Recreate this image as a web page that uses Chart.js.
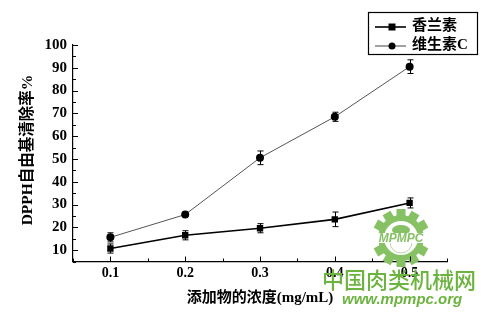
<!DOCTYPE html>
<html><head><meta charset="utf-8">
<script src="https://cdn.jsdelivr.net/npm/chart.js@4"></script>
<style>html,body{margin:0;padding:0;background:#fff}#w{width:500px;height:317px;position:relative}</style>
</head><body><div id="w"><canvas id="c"></canvas></div>
<script>
const concentrations = [0.1, 0.2, 0.3, 0.4, 0.5];
const seriesNames = ['香兰素', '维生素C'];
const vanillin = [10.7, 16.5, 19.6, 23.5, 30.7];
const vanillinErr = [2.0, 2.0, 2.0, 3.2, 2.2];
const vitaminC = [15.6, 25.6, 50.5, 68.5, 90.5];
const vitaminCErr = [2.0, 0.6, 3.0, 2.0, 3.0];
const xTickValues = [0.1, 0.2, 0.3, 0.4, 0.5];
const xTickLabels = ['0.1', '0.2', '0.3', '0.4', '0.5'];
const yTickValues = [10, 20, 30, 40, 50, 60, 70, 80, 90, 100];
const xTitle = '添加物的浓度(mg/mL)';
const yTitle = 'DPPH自由基清除率%';
const watermark1 = '中国肉类机械网';
const watermark2 = 'www.mpmpc.org';

const SERIF = '"Liberation Serif", "Noto Sans CJK SC", serif';
const CJK = '"Liberation Serif", "Noto Sans CJK SC", sans-serif';

const errs = [vanillinErr, vitaminCErr];

const drawPlugin = {
  id: 'custom',
  beforeDatasetsDraw(chart) {
    const ctx = chart.ctx, xs = chart.scales.x, ys = chart.scales.y;
    const a = chart.chartArea;
    ctx.save();
    // watermark gear
    const gx = 401, gy = 238;
    ctx.fillStyle = '#86c164';
    ctx.beginPath();
    for (let i = 0; i < 12; i++) {
      const ang = i * Math.PI / 6;
      ctx.save(); ctx.translate(gx, gy); ctx.rotate(ang);
      ctx.fillRect(-4.5, -29, 9, 8);
      ctx.restore();
    }
    ctx.arc(gx, gy, 23, 0, Math.PI * 2);
    ctx.fill();
    ctx.fillStyle = '#ffffff';
    ctx.beginPath(); ctx.arc(gx, gy, 17, 0, Math.PI * 2); ctx.fill();
    ctx.strokeStyle = '#b5dba0'; ctx.lineWidth = 1;
    ctx.beginPath(); ctx.arc(gx, gy + 4, 11, 0, Math.PI * 2); ctx.stroke();
    ctx.fillStyle = '#86c164';
    ctx.beginPath(); ctx.ellipse(gx, gy - 8, 9, 5, 0, 0, Math.PI * 2); ctx.fill();
    ctx.font = 'italic bold 12px "Liberation Sans", sans-serif';
    ctx.textAlign = 'center'; ctx.textBaseline = 'middle';
    ctx.fillStyle = '#ffffff';
    ctx.fillRect(gx - 32, gy - 5, 64, 10);
    ctx.fillStyle = '#86c164';
    ctx.fillText('MPMPC', gx, gy + 1);
    ctx.restore();

    // inward ticks
    ctx.save();
    ctx.strokeStyle = '#000'; ctx.lineWidth = 1;
    ctx.beginPath();
    for (let v = 5; v <= 100; v += 5) {
      const y = Math.round(ys.getPixelForValue(v)) + 0.5;
      const len = (v % 10 === 0) ? 5 : 3;
      ctx.moveTo(a.left, y); ctx.lineTo(a.left + len, y);
    }
    for (let k = 1; k <= 11; k++) {
      const v = k * 0.05;
      const x = Math.round(xs.getPixelForValue(v)) + 0.5;
      const len = (k % 2 === 0) ? 5 : 3;
      ctx.moveTo(x, a.bottom); ctx.lineTo(x, a.bottom - len);
    }
    ctx.stroke();
    // error bars
    chart.data.datasets.forEach((ds, i) => {
      ctx.strokeStyle = '#000'; ctx.lineWidth = 1;
      ds.data.forEach((pt, j) => {
        const x = Math.round(xs.getPixelForValue(pt.x)) + 0.5;
        const y1 = ys.getPixelForValue(pt.y - errs[i][j]);
        const y2 = ys.getPixelForValue(pt.y + errs[i][j]);
        ctx.beginPath();
        ctx.moveTo(x, y1); ctx.lineTo(x, y2);
        ctx.moveTo(x - 3, y1); ctx.lineTo(x + 3, y1);
        ctx.moveTo(x - 3, y2); ctx.lineTo(x + 3, y2);
        ctx.stroke();
      });
    });
    ctx.restore();
  },
  afterDraw(chart) {
    const ctx = chart.ctx;
    ctx.save();
    // axis titles
    ctx.fillStyle = '#000';
    ctx.font = 'bold 15px ' + CJK;
    ctx.textAlign = 'center'; ctx.textBaseline = 'middle';
    ctx.fillText(xTitle, 260, 298);
    ctx.save();
    ctx.translate(28, 150); ctx.rotate(-Math.PI / 2);
    ctx.font = 'bold 15.5px ' + CJK;
    ctx.fillText(yTitle, 0, 0);
    ctx.restore();
    // legend box
    ctx.strokeStyle = '#000'; ctx.lineWidth = 1.2;
    ctx.strokeRect(368.5, 12.5, 109, 42);
    const rows = [26, 45];
    const styles = [
      { w: 1.6, c: '#000', shape: 'rect' },
      { w: 1, c: '#444', shape: 'circle' }
    ];
    rows.forEach((ry, i) => {
      ctx.strokeStyle = styles[i].c; ctx.lineWidth = styles[i].w;
      ctx.beginPath(); ctx.moveTo(375, ry + 1); ctx.lineTo(406, ry + 1); ctx.stroke();
      ctx.fillStyle = '#000';
      ctx.beginPath();
      if (styles[i].shape === 'rect') ctx.rect(388.5, ry - 2.5, 7, 7);
      else ctx.arc(392, ry + 1, 3.5, 0, Math.PI * 2);
      ctx.fill();
      ctx.font = 'bold 15px ' + CJK;
      ctx.textAlign = 'left'; ctx.textBaseline = 'middle';
      ctx.fillText(seriesNames[i], 412, ry);
    });
    // watermark text
    ctx.fillStyle = '#6cb33f';
    ctx.font = '500 22px "Noto Sans CJK SC", sans-serif';
    ctx.textAlign = 'left'; ctx.textBaseline = 'middle';
    ctx.fillText(watermark1, 322, 280);
    ctx.font = 'italic bold 15px "Liberation Sans", sans-serif';
    ctx.fillText(watermark2, 342, 300);
    ctx.restore();
  }
};

new Chart(document.getElementById('c'), {
  type: 'line',
  data: {
    datasets: [
      {
        label: seriesNames[0],
        data: concentrations.map((x, i) => ({ x, y: vanillin[i] })),
        borderColor: '#000', backgroundColor: '#000',
        borderWidth: 1.6, pointStyle: 'rect', pointRadius: 4.5, pointBorderWidth: 0
      },
      {
        label: seriesNames[1],
        data: concentrations.map((x, i) => ({ x, y: vitaminC[i] })),
        borderColor: '#555', backgroundColor: '#000',
        borderWidth: 1, pointStyle: 'circle', pointRadius: 4, pointBorderWidth: 0
      }
    ]
  },
  options: {
    responsive: true, maintainAspectRatio: false, animation: false,
    layout: { padding: { left: 0, right: 53, top: 45, bottom: 0 } },
    plugins: { legend: { display: false }, tooltip: { enabled: false } },
    scales: {
      x: {
        type: 'linear', min: 0.05, max: 0.55,
        afterBuildTicks: s => { s.ticks = xTickValues.map(v => ({ value: v })); },
        afterFit: s => { s.height = 55.5; },
        grid: { display: false, drawTicks: false },
        border: { display: true, color: '#000', width: 1.2 },
        ticks: {
          padding: 3,
          color: '#000', font: { family: SERIF, size: 14, weight: 'bold' },
          callback: (v, i) => xTickLabels[i]
        }
      },
      y: {
        type: 'linear', min: 5, max: 100,
        afterBuildTicks: s => { s.ticks = yTickValues.map(v => ({ value: v })); },
        afterFit: s => { s.width = 73; },
        grid: { display: false, drawTicks: false },
        border: { display: true, color: '#000', width: 1.2 },
        ticks: {
          padding: 6,
          color: '#000', font: { family: SERIF, size: 15, weight: 'bold' },
          callback: v => String(v)
        }
      }
    }
  },
  plugins: [drawPlugin]
});
</script></body></html>
